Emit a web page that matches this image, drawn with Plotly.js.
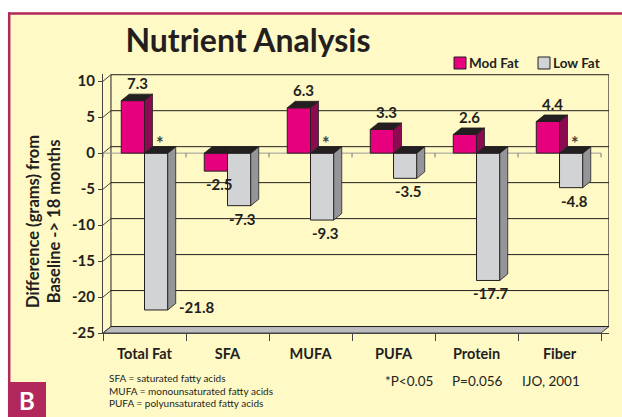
<!DOCTYPE html>
<html>
<head>
<meta charset="utf-8">
<script src="https://cdn.plot.ly/plotly-3.0.1.min.js"></script>
<style>html,body{margin:0;padding:0;background:#fff;}#chart{width:622px;height:417px;}</style>
</head>
<body>
<div id="chart"></div>
<script>
// ---- data ----
const categories = ['Total Fat', 'SFA', 'MUFA', 'PUFA', 'Protein', 'Fiber'];
const modFat = [7.3, -2.5, 6.3, 3.3, 2.6, 4.4];
const lowFat = [-21.8, -7.3, -9.3, -3.5, -17.7, -4.8];
const lowFatMark = ['*', '', '*', '', '', '*'];
const yTicks = [10, 5, 0, -5, -10, -15, -20, -25];
const seriesNames = ['Mod Fat', 'Low Fat'];
const footLines = ['SFA = saturated fatty acids', 'MUFA = monounsaturated fatty acids', 'PUFA = polyunsaturated fatty acids'];
const noteTexts = ['*P&lt;0.05', 'P=0.056', 'IJO, 2001'];

// ---- styling / geometry ----
const FONT = 'Lato, "Open Sans", sans-serif';
const INK = '#231f20';
const BG = '#fff9c6';
const PINK = '#e6007e', PINK_SIDE = '#8c0a50';
const GRAY = '#d1d3d4', GRAY_SIDE = '#939598';
const CRIMSON = '#b3285c';
const BW = 0.28, DX = 0.096, DY = 0.9;
const M = {l: 103, r: 13, t: 74, b: 84};
const W = 622 - M.l - M.r, H = 417 - M.t - M.b;
const px = v => (v - M.l) / W;
const py = v => (417 - M.b - v) / H;
const idx = categories.map((_, i) => i);
const xMin = -0.5, xMax = categories.length - 0.5;

const shapes = [];
const annotations = [];

// frame (paper coords)
shapes.push({type:'rect', xref:'paper', yref:'paper', layer:'below', x0:px(0), x1:px(622), y0:py(0), y1:py(12), fillcolor:'#fff', line:{width:0}});
shapes.push({type:'rect', xref:'paper', yref:'paper', layer:'below', x0:px(0), x1:px(8), y0:py(0), y1:py(417), fillcolor:'#fff', line:{width:0}});
shapes.push({type:'line', xref:'paper', yref:'paper', layer:'below', x0:px(8), x1:px(622), y0:py(13.5), y1:py(13.5), line:{color:CRIMSON, width:2.5}});
shapes.push({type:'line', xref:'paper', yref:'paper', layer:'below', x0:px(9.2), x1:px(9.2), y0:py(12.5), y1:py(417), line:{color:CRIMSON, width:2.5}});
shapes.push({type:'rect', xref:'paper', yref:'paper', layer:'above', x0:px(8), x1:px(46), y0:py(382), y1:py(417), fillcolor:CRIMSON, line:{width:0}});

// back wall, gridlines, floor (data coords, from tick values)
const yTop = Math.max(...yTicks), yBot = Math.min(...yTicks);
shapes.push({type:'path', xref:'x', yref:'y', layer:'below',
  path:`M${xMin},${yBot}L${xMax},${yBot}L${xMax+DX},${yBot+DY}L${xMin+DX},${yBot+DY}Z`,
  fillcolor:'#bcbcbf', line:{color:'#444', width:1}});
yTicks.forEach(v => {
  shapes.push({type:'line', xref:'x', yref:'y', layer:'below', x0:xMin+DX, x1:xMax+DX, y0:v+DY, y1:v+DY, line:{color:INK, width:1}});
  shapes.push({type:'line', xref:'x', yref:'y', layer:'below', x0:xMin, x1:xMin+DX, y0:v, y1:v+DY, line:{color:'#444', width:1}});
});
shapes.push({type:'line', xref:'x', yref:'y', layer:'below', x0:xMin+DX, x1:xMin+DX, y0:yBot+DY, y1:yTop+DY, line:{color:INK, width:1}});
shapes.push({type:'line', xref:'x', yref:'y', layer:'below', x0:xMax+DX, x1:xMax+DX, y0:yBot+DY, y1:yTop+DY, line:{color:INK, width:1.2}});
// category axis at zero with boundary ticks
shapes.push({type:'line', xref:'x', yref:'y', layer:'below', x0:xMin, x1:xMax, y0:0, y1:0, line:{color:'#9a9a9a', width:1}});
for (let i = 0; i <= categories.length; i++) {
  shapes.push({type:'line', xref:'x', yref:'y', layer:'below', x0:xMin+i, x1:xMin+i, y0:0, y1:-0.6, line:{color:'#777', width:1}});
}

// 3D faces for bars
function poly(pts, fill) {
  return {type:'path', xref:'x', yref:'y', layer:'above',
    path:'M' + pts.map(p => p[0] + ',' + p[1]).join('L') + 'Z',
    fillcolor:fill, line:{color:INK, width:0.8}};
}
function addFaces(vals, off, sideColor, coverVals) {
  vals.forEach((v, i) => {
    const x0 = i + off, x1 = x0 + BW;
    const top = Math.max(v, 0), bot = Math.min(v, 0);
    let segs = [[bot, top]];
    if (coverVals) {
      const c = coverVals[i], cb = Math.min(c, 0), ct = Math.max(c, 0);
      if (!(ct <= bot || cb >= top)) {
        segs = [];
        if (bot < cb) segs.push([bot, cb]);
        if (ct < top) segs.push([ct, top]);
      }
    }
    segs.forEach(s => shapes.push(poly([[x1, s[0]], [x1, s[1]], [x1 + DX, s[1] + DY], [x1 + DX, s[0] + DY]], sideColor)));
    shapes.push(poly([[x0, top], [x1, top], [x1 + DX, top + DY], [x0 + DX, top + DY]], INK));
  });
}
addFaces(modFat, -BW, PINK_SIDE, lowFat);
addFaces(lowFat, 0, GRAY_SIDE, null);

// value labels
const lblFont = {family:FONT, size:15, color:INK};
function addLabels(vals, off) {
  vals.forEach((v, i) => {
    const cx = i + off + BW / 2;
    const t = '<b>' + v.toFixed(1) + '</b>';
    if (v >= 0) {
      annotations.push({xref:'x', yref:'y', x:cx + DX * 0.6, y:v + DY, text:t, showarrow:false, xanchor:'center', yanchor:'bottom', yshift:0, font:lblFont});
    } else if (v < -20) {
      annotations.push({xref:'x', yref:'y', x:i + off + BW + DX, y:v + DY * 0.5, text:t, showarrow:false, xanchor:'left', yanchor:'middle', xshift:1, font:lblFont});
    } else {
      annotations.push({xref:'x', yref:'y', x:cx + DX * 0.4, y:v, text:t, showarrow:false, xanchor:'center', yanchor:'top', yshift:-2, font:lblFont});
    }
  });
}
addLabels(modFat, -BW);
addLabels(lowFat, 0);
lowFatMark.forEach((m, i) => {
  if (!m) return;
  annotations.push({xref:'x', yref:'y', x:i + BW / 2 + DX * 0.5, y:DY, text:'<b>' + m + '</b>', showarrow:false, xanchor:'center', yanchor:'bottom', yshift:-9, font:{family:FONT, size:18, color:'#444'}});
});

// custom legend (paper coords)
const legendItems = [{name:seriesNames[0], color:PINK, bx:454}, {name:seriesNames[1], color:GRAY, bx:538}];
legendItems.forEach(it => {
  shapes.push({type:'rect', xref:'paper', yref:'paper', layer:'above', x0:px(it.bx), x1:px(it.bx + 12), y0:py(57), y1:py(69), fillcolor:it.color, line:{color:INK, width:1}});
  annotations.push({xref:'paper', yref:'paper', x:px(it.bx + 13), y:py(63.5), text:'<b>' + it.name + '</b>', showarrow:false, xanchor:'left', yanchor:'middle', font:{family:FONT, size:13.5, color:INK}});
});

// y-axis title
annotations.push({xref:'paper', yref:'paper', x:px(43), y:py(222), text:'<b>Difference (grams) from<br>Baseline -&gt; 18 months</b>', textangle:-90, showarrow:false, xanchor:'center', yanchor:'middle', font:{family:FONT, size:16.5, color:INK}});
// footnotes
footLines.forEach((t, k) => {
  annotations.push({xref:'paper', yref:'paper', x:px(107), y:py(378 + k * 12.5), text:t, showarrow:false, xanchor:'left', yanchor:'middle', font:{family:FONT, size:10, color:INK}});
});
const notePos = [383, 450, 520];
noteTexts.forEach((t, k) => {
  annotations.push({xref:'paper', yref:'paper', x:px(notePos[k]), y:py(381), text:t, showarrow:false, xanchor:'left', yanchor:'middle', font:{family:FONT, size:13.5, color:INK}});
});
annotations.push({xref:'paper', yref:'paper', x:px(27), y:py(400), text:'<b>B</b>', showarrow:false, xanchor:'center', yanchor:'middle', font:{family:FONT, size:24, color:'#fff'}});

const traces = [
  {type:'bar', name:seriesNames[0], x:idx, y:modFat, width:BW, offset:-BW, marker:{color:PINK, line:{color:INK, width:1}}, hoverinfo:'skip'},
  {type:'bar', name:seriesNames[1], x:idx, y:lowFat, width:BW, offset:0, marker:{color:GRAY, line:{color:INK, width:1}}, hoverinfo:'skip'}
];

const layout = {
  width:622, height:417,
  margin:M,
  paper_bgcolor:BG, plot_bgcolor:BG,
  barmode:'overlay',
  title:{text:'<b>Nutrient Analysis</b>', font:{family:FONT, size:32, color:INK}, xref:'container', yref:'container', x:248/622, xanchor:'center', y:1 - 41/417, yanchor:'middle'},
  showlegend:false,
  xaxis:{range:[xMin, xMax + DX], tickmode:'array', tickvals:idx, ticktext:categories.map(c => '<b>' + c + '</b>'), ticks:'', showgrid:false, zeroline:false, showline:true, linecolor:'#444', linewidth:1, tickfont:{family:FONT, size:14.5, color:INK}, ticklabelstandoff:8,
    minor:{tickmode:'linear', tick0:-0.5, dtick:1, ticks:'outside', ticklen:7, tickcolor:'#444', showgrid:false}},
  yaxis:{range:[yBot, 11], tickmode:'array', tickvals:yTicks, ticktext:yTicks.map(v => '<b>' + v + '</b>'), ticks:'outside', ticklen:4, tickcolor:'#444', showgrid:false, zeroline:false, showline:true, linecolor:'#444', linewidth:1, tickfont:{family:FONT, size:15, color:INK}},
  shapes:shapes,
  annotations:annotations
};

Plotly.newPlot('chart', traces, layout, {displayModeBar:false, staticPlot:true});
</script>
</body>
</html>
